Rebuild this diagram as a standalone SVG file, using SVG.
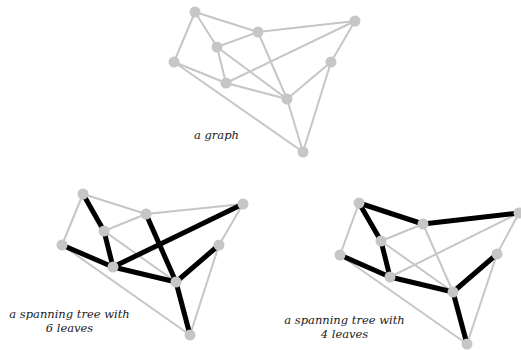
<svg xmlns="http://www.w3.org/2000/svg" width="521" height="350" viewBox="0 0 521 350">
<style>
.e{stroke:#c6c6c6;stroke-width:2;fill:none}
.t{stroke:#000;stroke-width:5;fill:none}
.n{fill:#c6c6c6}
.lbl{font-family:"DejaVu Serif","Liberation Serif",serif;font-style:italic;font-size:11.5px;fill:#1a1a1a;text-anchor:middle}
</style>
<rect width="521" height="350" fill="#fff"/>
<!-- Graph 1 -->
<g id="graph-connectors">
<line class="e" x1="195" y1="12" x2="258" y2="32"/>
<line class="e" x1="195" y1="12" x2="217" y2="47"/>
<line class="e" x1="195" y1="12" x2="174" y2="62"/>
<line class="e" x1="258" y1="32" x2="355" y2="21"/>
<line class="e" x1="258" y1="32" x2="217" y2="47"/>
<line class="e" x1="258" y1="32" x2="287" y2="99"/>
<line class="e" x1="355" y1="21" x2="331" y2="62"/>
<line class="e" x1="355" y1="21" x2="226" y2="83"/>
<line class="e" x1="217" y1="47" x2="226" y2="83"/>
<line class="e" x1="217" y1="47" x2="287" y2="99"/>
<line class="e" x1="174" y1="62" x2="226" y2="83"/>
<line class="e" x1="174" y1="62" x2="303" y2="152"/>
<line class="e" x1="226" y1="83" x2="287" y2="99"/>
<line class="e" x1="331" y1="62" x2="287" y2="99"/>
<line class="e" x1="331" y1="62" x2="303" y2="152"/>
<line class="e" x1="287" y1="99" x2="303" y2="152"/>
</g>
<g id="g1-A"><circle class="n" cx="195" cy="12" r="5.5"/></g>
<g id="g1-B"><circle class="n" cx="258" cy="32" r="5.5"/></g>
<g id="g1-C"><circle class="n" cx="355" cy="21" r="5.5"/></g>
<g id="g1-D"><circle class="n" cx="217" cy="47" r="5.5"/></g>
<g id="g1-E"><circle class="n" cx="174" cy="62" r="5.5"/></g>
<g id="g1-F"><circle class="n" cx="226" cy="83" r="5.5"/></g>
<g id="g1-G"><circle class="n" cx="331" cy="62" r="5.5"/></g>
<g id="g1-H"><circle class="n" cx="287" cy="99" r="5.5"/></g>
<g id="g1-I"><circle class="n" cx="303" cy="152" r="5.5"/></g>
<text class="lbl" x="216.5" y="139">a graph</text>

<!-- Graph 2: spanning tree with 6 leaves -->
<g id="tree6-connectors">
<line class="e" x1="83" y1="194" x2="146" y2="214"/>
<line class="e" x1="83" y1="194" x2="62" y2="245"/>
<line class="e" x1="146" y1="214" x2="243" y2="204"/>
<line class="e" x1="146" y1="214" x2="104" y2="231"/>
<line class="e" x1="243" y1="204" x2="219" y2="245"/>
<line class="e" x1="104" y1="231" x2="176" y2="282"/>
<line class="e" x1="62" y1="245" x2="190" y2="335"/>
<line class="e" x1="219" y1="245" x2="190" y2="335"/>
<line class="t" x1="83" y1="194" x2="104" y2="231"/>
<line class="t" x1="104" y1="231" x2="113" y2="267"/>
<line class="t" x1="62" y1="245" x2="113" y2="267"/>
<line class="t" x1="113" y1="267" x2="243" y2="204"/>
<line class="t" x1="113" y1="267" x2="176" y2="282"/>
<line class="t" x1="146" y1="214" x2="176" y2="282"/>
<line class="t" x1="176" y1="282" x2="219" y2="245"/>
<line class="t" x1="176" y1="282" x2="190" y2="335"/>
</g>
<g id="t6-A"><circle class="n" cx="83" cy="194" r="5.5"/></g>
<g id="t6-B"><circle class="n" cx="146" cy="214" r="5.5"/></g>
<g id="t6-C"><circle class="n" cx="243" cy="204" r="5.5"/></g>
<g id="t6-D"><circle class="n" cx="104" cy="231" r="5.5"/></g>
<g id="t6-E"><circle class="n" cx="62" cy="245" r="5.5"/></g>
<g id="t6-F"><circle class="n" cx="113" cy="267" r="5.5"/></g>
<g id="t6-G"><circle class="n" cx="219" cy="245" r="5.5"/></g>
<g id="t6-H"><circle class="n" cx="176" cy="282" r="5.5"/></g>
<g id="t6-I"><circle class="n" cx="190" cy="335" r="5.5"/></g>
<text class="lbl" x="69.5" y="318">a spanning tree with</text>
<text class="lbl" x="69.5" y="332">6 leaves</text>

<!-- Graph 3: spanning tree with 4 leaves -->
<g id="tree4-connectors">
<line class="e" x1="359" y1="203" x2="340" y2="255"/>
<line class="e" x1="423" y1="224" x2="381" y2="241"/>
<line class="e" x1="423" y1="224" x2="453" y2="292"/>
<line class="e" x1="519" y1="213" x2="497" y2="254"/>
<line class="e" x1="519" y1="213" x2="390" y2="277"/>
<line class="e" x1="381" y1="241" x2="453" y2="292"/>
<line class="e" x1="340" y1="255" x2="467" y2="344"/>
<line class="e" x1="497" y1="254" x2="467" y2="344"/>
<line class="t" x1="359" y1="203" x2="423" y2="224"/>
<line class="t" x1="423" y1="224" x2="519" y2="213"/>
<line class="t" x1="359" y1="203" x2="381" y2="241"/>
<line class="t" x1="381" y1="241" x2="390" y2="277"/>
<line class="t" x1="340" y1="255" x2="390" y2="277"/>
<line class="t" x1="390" y1="277" x2="453" y2="292"/>
<line class="t" x1="453" y1="292" x2="497" y2="254"/>
<line class="t" x1="453" y1="292" x2="467" y2="344"/>
</g>
<g id="t4-A"><circle class="n" cx="359" cy="203" r="5.5"/></g>
<g id="t4-B"><circle class="n" cx="423" cy="224" r="5.5"/></g>
<g id="t4-C"><circle class="n" cx="519" cy="213" r="5.5"/></g>
<g id="t4-D"><circle class="n" cx="381" cy="241" r="5.5"/></g>
<g id="t4-E"><circle class="n" cx="340" cy="255" r="5.5"/></g>
<g id="t4-F"><circle class="n" cx="390" cy="277" r="5.5"/></g>
<g id="t4-G"><circle class="n" cx="497" cy="254" r="5.5"/></g>
<g id="t4-H"><circle class="n" cx="453" cy="292" r="5.5"/></g>
<g id="t4-I"><circle class="n" cx="467" cy="344" r="5.5"/></g>
<text class="lbl" x="344.5" y="324">a spanning tree with</text>
<text class="lbl" x="344.5" y="338">4 leaves</text>
</svg>
